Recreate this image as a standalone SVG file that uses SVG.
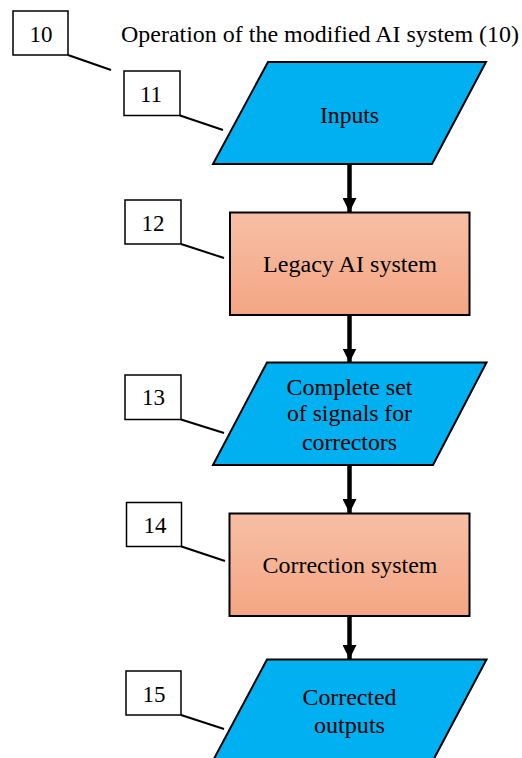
<svg xmlns="http://www.w3.org/2000/svg" width="522" height="758" viewBox="0 0 522 758">
  <defs>
    <linearGradient id="procFill" x1="0" y1="0" x2="0" y2="1">
      <stop offset="0" stop-color="#F7BFA6"/>
      <stop offset="1" stop-color="#F4A683"/>
    </linearGradient>
    <marker id="arrowHead" viewBox="0 0 14 14" refX="14" refY="7" markerWidth="14" markerHeight="14" markerUnits="userSpaceOnUse" orient="auto">
      <path d="M0,0 L14,7 L0,14 Z" fill="#000"/>
    </marker>
  </defs>
  <style>
    text { font-family: "Liberation Serif", "Times New Roman", serif; font-size: 23px; fill: #000; }
    .mid { text-anchor: middle; }
    .io { fill: #00B0F0; stroke: #000; stroke-width: 2; stroke-linejoin: miter; }
    .proc { fill: url(#procFill); stroke: #000; stroke-width: 2; }
    .tag { fill: #fff; stroke: #000; stroke-width: 1.5; }
    .leader { stroke: #000; stroke-width: 2; fill: none; }
    .flow { stroke: #000; stroke-width: 4.5; fill: none; marker-end: url(#arrowHead); }
  </style>
  <rect width="522" height="758" fill="#fff"/>

  <!-- heading with its reference numeral -->
  <g id="title">
    <rect class="tag" x="13" y="11" width="55" height="44"/>
    <text class="mid" x="41" y="41.5">10</text>
    <text x="121" y="41.5" textLength="398" lengthAdjust="spacingAndGlyphs">Operation of the modified AI system (10)</text>
    <line class="leader" x1="68" y1="55" x2="111" y2="70"/>
  </g>

  <!-- flow connectors -->
  <g id="connectors">
    <line class="flow" x1="349.5" y1="164" x2="349.5" y2="212"/>
    <line class="flow" x1="349.5" y1="315" x2="349.5" y2="362.5"/>
    <line class="flow" x1="349.5" y1="465" x2="349.5" y2="513"/>
    <line class="flow" x1="349.5" y1="616" x2="349.5" y2="659"/>
  </g>

  <g id="node-11">
    <polygon class="io" points="268,62 486,62 432,164 213,164"/>
    <text class="mid" x="349.5" y="122.5" textLength="59" lengthAdjust="spacingAndGlyphs">Inputs</text>
    <rect class="tag" x="124" y="71" width="56" height="44.5"/>
    <text class="mid" x="151" y="101.5">11</text>
    <line class="leader" x1="180" y1="115.5" x2="223" y2="130"/>
  </g>

  <g id="node-12">
    <rect class="proc" x="230" y="212.5" width="239.5" height="102.5"/>
    <text class="mid" x="350" y="271.5" textLength="174" lengthAdjust="spacingAndGlyphs">Legacy AI system</text>
    <rect class="tag" x="125" y="200" width="56" height="44"/>
    <text class="mid" x="153" y="230.5">12</text>
    <line class="leader" x1="181" y1="244" x2="224" y2="258"/>
  </g>

  <g id="node-13">
    <polygon class="io" points="267,362.5 486.5,362.5 433,465 213,465"/>
    <text class="mid" x="349.5" y="395" textLength="126" lengthAdjust="spacingAndGlyphs">Complete set</text>
    <text class="mid" x="349.5" y="421" textLength="125" lengthAdjust="spacingAndGlyphs">of signals for</text>
    <text class="mid" x="349.5" y="450" textLength="95" lengthAdjust="spacingAndGlyphs">correctors</text>
    <rect class="tag" x="125" y="375" width="56" height="44.5"/>
    <text class="mid" x="153.5" y="404.5">13</text>
    <line class="leader" x1="181" y1="419.5" x2="224" y2="433"/>
  </g>

  <g id="node-14">
    <rect class="proc" x="229.5" y="513.5" width="240" height="102.5"/>
    <text class="mid" x="350" y="572.5" textLength="175" lengthAdjust="spacingAndGlyphs">Correction system</text>
    <rect class="tag" x="126.5" y="502.5" width="55" height="44"/>
    <text class="mid" x="155" y="532.5">14</text>
    <line class="leader" x1="181.5" y1="546.5" x2="225" y2="561"/>
  </g>

  <g id="node-15">
    <polygon class="io" points="267,659.5 486.5,659.5 432.5,761.5 212.5,761.5"/>
    <text class="mid" x="349.5" y="705" textLength="94" lengthAdjust="spacingAndGlyphs">Corrected</text>
    <text class="mid" x="349.5" y="733" textLength="71" lengthAdjust="spacingAndGlyphs">outputs</text>
    <rect class="tag" x="126" y="671" width="55" height="44"/>
    <text class="mid" x="154" y="701.5">15</text>
    <line class="leader" x1="181" y1="715" x2="224" y2="729"/>
  </g>
</svg>
